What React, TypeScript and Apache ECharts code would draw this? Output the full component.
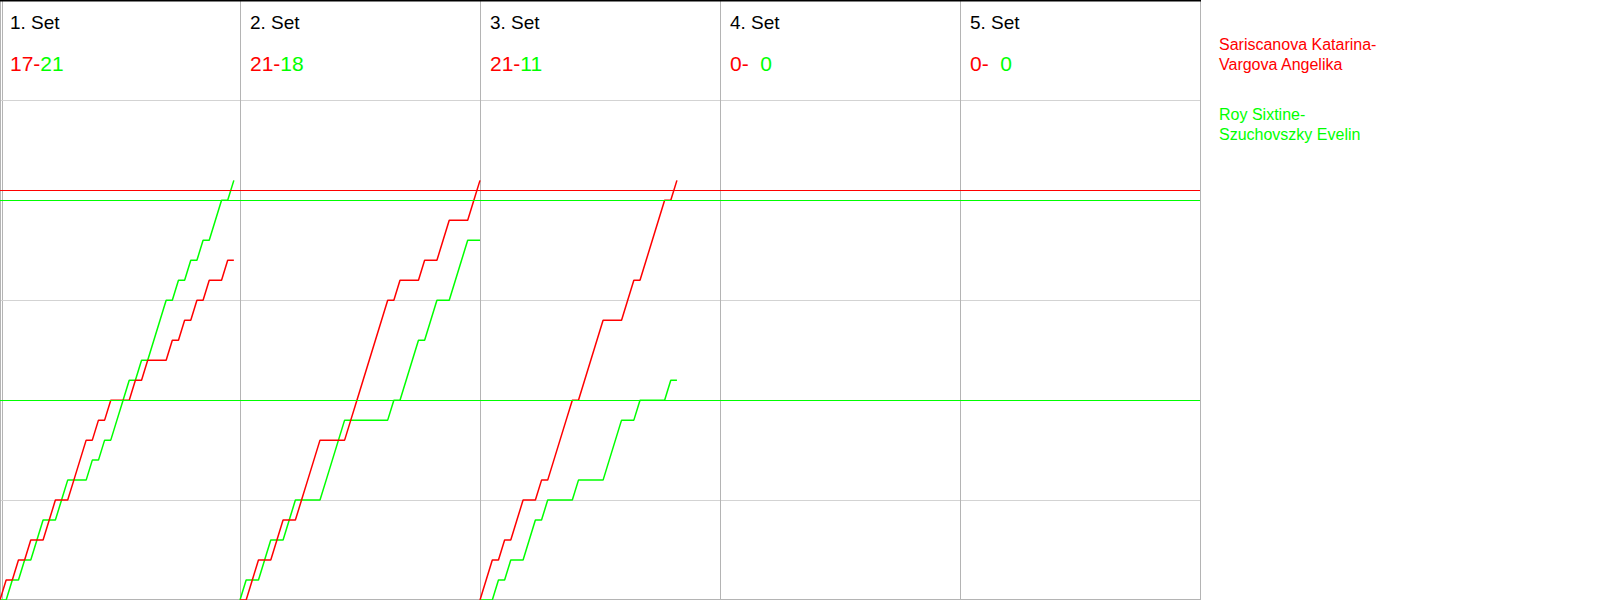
import React, { useEffect, useRef } from "react";
import * as echarts from "echarts";

// ---- data ----
const setLabels = ["1. Set", "2. Set", "3. Set", "4. Set", "5. Set"];
const redScoreLabels = ["17-", "21-", "21-", "0-", "0-"];
const greenScoreLabels = ["21", "18", "11", "  0", "  0"];
const redTeam = "Sariscanova Katarina-\nVargova Angelika";
const greenTeam = "Roy Sixtine-\nSzuchovszky Evelin";

const ralliesPerSet = 39; // width of one set panel, in rallies
const setCount = 5;
const scoreMax = 30;
const scoreStep = 5;

// cumulative score after each rally (index 0 = start of set)
const set1Red = [0, 1, 1, 2, 2, 3, 3, 3, 4, 5, 5, 5, 6, 7, 8, 8, 9, 9, 10, 10, 10, 10, 11, 11, 12, 12, 12, 12, 13, 13, 14, 14, 15, 15, 16, 16, 16, 17, 17];
const set1Green = [0, 0, 1, 1, 2, 2, 3, 4, 4, 4, 5, 6, 6, 6, 6, 7, 7, 8, 8, 9, 10, 11, 11, 12, 12, 13, 14, 15, 15, 16, 16, 17, 17, 18, 18, 19, 20, 20, 21];
const set2Red = [0, 0, 1, 2, 2, 2, 3, 4, 4, 4, 5, 6, 7, 8, 8, 8, 8, 8, 9, 10, 11, 12, 13, 14, 15, 15, 16, 16, 16, 16, 17, 17, 17, 18, 19, 19, 19, 19, 20, 21];
const set2Green = [0, 1, 1, 1, 2, 3, 3, 3, 4, 5, 5, 5, 5, 5, 6, 7, 8, 9, 9, 9, 9, 9, 9, 9, 9, 10, 10, 11, 12, 13, 13, 14, 15, 15, 15, 16, 17, 18, 18, 18];
const set3Red = [0, 1, 2, 2, 3, 3, 4, 5, 5, 5, 6, 6, 7, 8, 9, 10, 10, 11, 12, 13, 14, 14, 14, 14, 15, 16, 16, 17, 18, 19, 20, 20, 21];
const set3Green = [0, 0, 0, 1, 1, 2, 2, 2, 3, 4, 4, 5, 5, 5, 5, 5, 6, 6, 6, 6, 6, 7, 8, 9, 9, 9, 10, 10, 10, 10, 10, 11, 11];

const redSets = [set1Red, set2Red, set3Red];
const greenSets = [set1Green, set2Green, set3Green];

const redMarkLines = [20.5];
const greenMarkLines = [20, 10];

const RED = "#ff0000";
const GREEN = "#00ff00";
const FONT = '"Liberation Sans", Arial, sans-serif';

export default function App() {
  const ref = useRef<HTMLDivElement>(null);

  useEffect(() => {
    if (!ref.current) return;
    const chart = echarts.init(ref.current, null, { renderer: "svg" });

    const series: any[] = [];
    series.push({
      type: "line",
      data: [],
      z: 1,
      silent: true,
      markLine: {
        silent: true,
        symbol: ["none", "none"],
        label: { show: false },
        animation: false,
        data: [
          ...redMarkLines.map((v) => ({ yAxis: v, lineStyle: { color: RED, width: 1.2, type: "solid" } })),
          ...greenMarkLines.map((v) => ({ yAxis: v, lineStyle: { color: GREEN, width: 1.2, type: "solid" } })),
        ],
      },
    });
    const addSets = (sets: number[][], color: string, z: number) => {
      sets.forEach((arr, k) => {
        series.push({
          type: "line",
          z,
          silent: true,
          symbol: "none",
          data: arr.map((v, r) => [k * ralliesPerSet + r, v]),
          lineStyle: { color, width: 1.5 },
          itemStyle: { color },
        });
      });
    };
    addSets(greenSets, GREEN, 2);
    addSets(redSets, RED, 3);

    const graphic: any[] = [];
    setLabels.forEach((lab, k) => {
      graphic.push({
        type: "text",
        x: 240 * k + 10,
        y: 22,
        style: { text: lab, fill: "#000", fontSize: 19, fontFamily: FONT, verticalAlign: "middle" },
      });
      graphic.push({
        type: "text",
        x: 240 * k + 10,
        y: 63,
        style: {
          text: `{r|${redScoreLabels[k]}}{g|${greenScoreLabels[k]}}`,
          fontSize: 21,
          fontFamily: FONT,
          verticalAlign: "middle",
          rich: {
            r: { fill: RED, fontSize: 21, fontFamily: FONT },
            g: { fill: GREEN, fontSize: 21, fontFamily: FONT },
          },
        },
      });
    });
    graphic.push({
      type: "text",
      x: 1219,
      y: 54.5,
      style: { text: redTeam, fill: RED, fontSize: 16, fontFamily: FONT, lineHeight: 20, verticalAlign: "middle" },
    });
    graphic.push({
      type: "text",
      x: 1219,
      y: 124.5,
      style: { text: greenTeam, fill: GREEN, fontSize: 16, fontFamily: FONT, lineHeight: 20, verticalAlign: "middle" },
    });
    graphic.push({
      type: "rect",
      shape: { x: 0, y: 0, width: 1201, height: 1.5 },
      style: { fill: "#000" },
      z: 100,
    });
    graphic.push({
      type: "line",
      shape: { x1: 2.5, y1: 0, x2: 2.5, y2: 600 },
      style: { stroke: "#b4b4b4", lineWidth: 1 },
      z: 0,
    });
    graphic.push({
      type: "line",
      shape: { x1: 0, y1: 599.5, x2: 1201, y2: 599.5 },
      style: { stroke: "#b4b4b4", lineWidth: 1 },
      z: 0,
    });

    chart.setOption({
      animation: false,
      backgroundColor: "#ffffff",
      grid: { left: 0, top: 0.5, width: 1200, height: 600, containLabel: false },
      xAxis: {
        type: "value",
        min: 0,
        max: ralliesPerSet * setCount,
        interval: ralliesPerSet,
        axisLabel: { show: false },
        axisTick: { show: false },
        axisLine: { show: false },
        splitLine: { show: true, lineStyle: { color: "#b4b4b4", width: 1 } },
      },
      yAxis: {
        type: "value",
        min: 0,
        max: scoreMax,
        interval: scoreStep,
        axisLabel: { show: false },
        axisTick: { show: false },
        axisLine: { show: false },
        splitLine: { show: true, lineStyle: { color: "#d3d3d3", width: 1 } },
      },
      series,
      graphic,
    });

    return () => chart.dispose();
  }, []);

  return (
    <div
      ref={ref}
      style={{ position: "absolute", left: 0, top: 0, width: 1600, height: 600, background: "#fff" }}
    />
  );
}
